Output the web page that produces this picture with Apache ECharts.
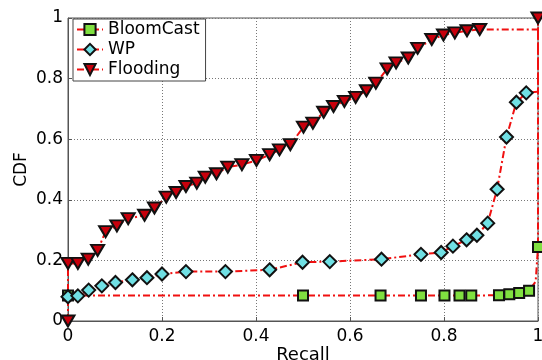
<!DOCTYPE html>
<html><head><meta charset="utf-8">
<script src="https://cdn.jsdelivr.net/npm/echarts@6/dist/echarts.min.js"></script>
<style>html,body{margin:0;padding:0;background:#fff}#c{width:542px;height:360px}</style>
</head><body><div id="c"></div>
<script>
// ---- data ----
const seriesNames = ['BloomCast', 'WP', 'Flooding'];
const tickValues = [0, 0.2, 0.4, 0.6, 0.8, 1];

const bloomX = [0, 0.5, 0.665, 0.751, 0.801, 0.833, 0.858, 0.917, 0.939, 0.960, 0.981, 0.995, 1.0, 1.0];
const bloomY = [0.084, 0.084, 0.084, 0.084, 0.084, 0.084, 0.084, 0.085, 0.088, 0.092, 0.100, 0.13, 0.244, 1.0];
const bloomHidden = [11, 13];

const wpX = [0, 0, 0.021, 0.044, 0.072, 0.101, 0.137, 0.168, 0.200, 0.251, 0.335, 0.429, 0.499, 0.557, 0.667, 0.751, 0.794, 0.819, 0.848, 0.870, 0.893, 0.913, 0.933, 0.954, 0.975, 1.0, 1.0];
const wpY = [0, 0.080, 0.083, 0.102, 0.116, 0.127, 0.136, 0.143, 0.155, 0.163, 0.163, 0.169, 0.194, 0.196, 0.204, 0.220, 0.226, 0.247, 0.268, 0.283, 0.323, 0.435, 0.607, 0.722, 0.753, 0.757, 1.0];
const wpHidden = [0, 25, 26];

const floodX = [0, 0, 0.021, 0.043, 0.063, 0.080, 0.104, 0.128, 0.163, 0.184, 0.209, 0.230, 0.251, 0.274, 0.292, 0.316, 0.340, 0.370, 0.401, 0.429, 0.450, 0.473, 0.501, 0.521, 0.544, 0.565, 0.588, 0.612, 0.635, 0.655, 0.679, 0.698, 0.724, 0.744, 0.774, 0.799, 0.823, 0.849, 0.876, 1.0, 1.0];
const floodY = [0, 0.19, 0.19, 0.204, 0.233, 0.295, 0.314, 0.338, 0.349, 0.373, 0.409, 0.424, 0.444, 0.455, 0.475, 0.486, 0.508, 0.516, 0.530, 0.549, 0.565, 0.582, 0.640, 0.653, 0.689, 0.708, 0.725, 0.738, 0.760, 0.785, 0.832, 0.852, 0.868, 0.900, 0.929, 0.944, 0.951, 0.958, 0.962, 0.962, 1.0];
const floodHidden = [39];

function build(xs, ys, hidden) {
  return xs.map((x, i) => hidden.indexOf(i) >= 0 ? {value: [x, ys[i]], symbol: 'none'} : [x, ys[i]]);
}

const FONT = 'DejaVu Sans';
const lineStyle = {color: '#f01010', width: 2, type: [7, 3, 2, 3]};
const tickFmt = v => (tickValues.indexOf(v) >= 0 ? String(v) : '');

const chart = echarts.init(document.getElementById('c'), null, {renderer: 'canvas'});
chart.setOption({
  animation: false,
  backgroundColor: '#fff',
  grid: {left: 68, right: 4, top: 18, bottom: 39, show: true, borderColor: '#555', borderWidth: 1,
         containLabel: false, outerBoundsMode: 'none'},
  legend: {
    left: 73, top: 19, orient: 'vertical',
    data: seriesNames,
    backgroundColor: '#fff', borderColor: '#444', borderWidth: 1,
    padding: [1, 6, 2, 3], itemGap: 1, itemWidth: 26, itemHeight: 14,
    textStyle: {fontFamily: FONT, fontSize: 17, color: '#000', lineHeight: 19}
  },
  xAxis: {
    type: 'value', min: 0, max: 1, interval: 0.2,
    name: 'Recall', nameLocation: 'middle', nameGap: 25, nameMoveOverlap: false,
    nameTextStyle: {fontFamily: FONT, fontSize: 18, color: '#000', verticalAlign: 'top'},
    axisLine: {show: true, lineStyle: {color: '#555'}},
    axisTick: {show: true, inside: true, length: 4, lineStyle: {color: '#555'}},
    axisLabel: {fontFamily: FONT, fontSize: 17, color: '#000', margin: 7, formatter: tickFmt},
    splitLine: {show: true, lineStyle: {color: '#777', type: [1, 2], width: 1}}
  },
  yAxis: {
    type: 'value', min: 0, max: 1, interval: 0.2,
    name: 'CDF', nameLocation: 'middle', nameGap: 38, nameMoveOverlap: false,
    nameTextStyle: {fontFamily: FONT, fontSize: 17, color: '#000'},
    axisLine: {show: true, lineStyle: {color: '#555'}},
    axisTick: {show: true, inside: true, length: 4, lineStyle: {color: '#555'}},
    axisLabel: {fontFamily: FONT, fontSize: 17, color: '#000', margin: 5, formatter: tickFmt},
    splitLine: {show: true, lineStyle: {color: '#777', type: [1, 2], width: 1}}
  },
  series: [
    {
      name: seriesNames[0], type: 'line', data: build(bloomX, bloomY, bloomHidden),
      clip: false, showAllSymbol: true, symbol: 'rect', symbolSize: 10,
      lineStyle: lineStyle,
      itemStyle: {color: '#80e040', borderColor: '#111', borderWidth: 2}
    },
    {
      name: seriesNames[1], type: 'line', data: build(wpX, wpY, wpHidden),
      clip: false, showAllSymbol: true, symbol: 'diamond', symbolSize: 13,
      lineStyle: lineStyle,
      itemStyle: {color: '#70e0e4', borderColor: '#111', borderWidth: 2}
    },
    {
      name: seriesNames[2], type: 'line', data: build(floodX, floodY, floodHidden),
      clip: false, showAllSymbol: true, symbol: 'triangle', symbolRotate: 180, symbolSize: [13, 11],
      lineStyle: lineStyle,
      itemStyle: {color: '#c8000c', borderColor: '#111', borderWidth: 2}
    }
  ]
});
</script></body></html>
